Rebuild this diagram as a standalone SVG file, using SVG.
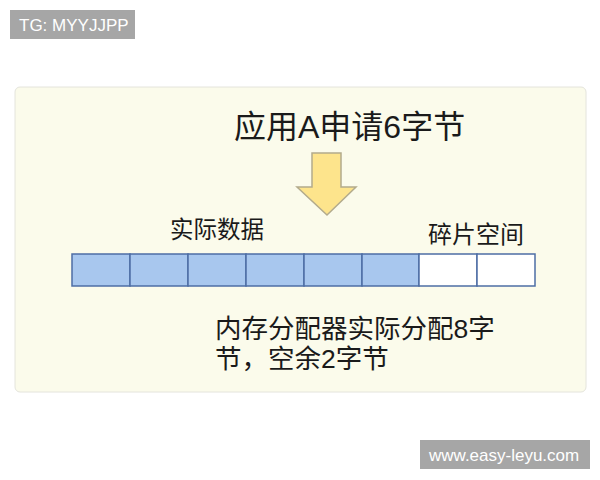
<svg xmlns="http://www.w3.org/2000/svg" width="600" height="480" viewBox="0 0 600 480">
<style>
.badge{fill:#a6a6a6}
.btxt{font-family:"Liberation Sans",Arial,sans-serif;font-size:17px;fill:#ffffff}
.cjk{font-family:"Liberation Sans","Noto Sans CJK SC",sans-serif;fill:#1a1a1a}
.used{fill:#a8c7ee;stroke:#4d6ea5;stroke-width:1.5}
.free{fill:#ffffff;stroke:#4d6ea5;stroke-width:1.5}
</style>
<rect width="600" height="480" fill="#ffffff"/>
<rect class="badge" x="10" y="10" width="125" height="29"/>
<text class="btxt" x="19" y="31">TG: MYYJJPP</text>
<rect x="15" y="87" width="571" height="305" rx="5" fill="#fbfbeb" stroke="#e4e4dc" stroke-width="1"/>
<g id="title"><text class="cjk" x="234" y="138" font-size="32">应用A申请6字节</text></g>
<g id="arrow"><polygon points="312,153 341,153 341,187 356,187 327,215 297,187 312,187" fill="#fde48c" stroke="#b3ab8c" stroke-width="1.5"/></g>
<g id="label-data"><text class="cjk" x="170" y="238" font-size="23.5">实际数据</text></g>
<g id="label-frag"><text class="cjk" x="428" y="243" font-size="24">碎片空间</text></g>
<g id="bar">
<rect class="used" x="72" y="254" width="58" height="32"/>
<rect class="used" x="130" y="254" width="58" height="32"/>
<rect class="used" x="188" y="254" width="58" height="32"/>
<rect class="used" x="246" y="254" width="58" height="32"/>
<rect class="used" x="304" y="254" width="58" height="32"/>
<rect class="used" x="362" y="254" width="57" height="32"/>
<rect class="free" x="419" y="254" width="58" height="32"/>
<rect class="free" x="477" y="254" width="58" height="32"/>
</g>
<g id="note"><text class="cjk" font-size="26.5"><tspan x="215" y="338">内存分配器实际分配8字</tspan><tspan x="215" y="368">节，空余2字节</tspan></text></g>
<g id="connectors"></g>
<rect class="badge" x="420" y="440" width="170" height="29"/>
<text class="btxt" x="429" y="461">www.easy-leyu.com</text>
</svg>
